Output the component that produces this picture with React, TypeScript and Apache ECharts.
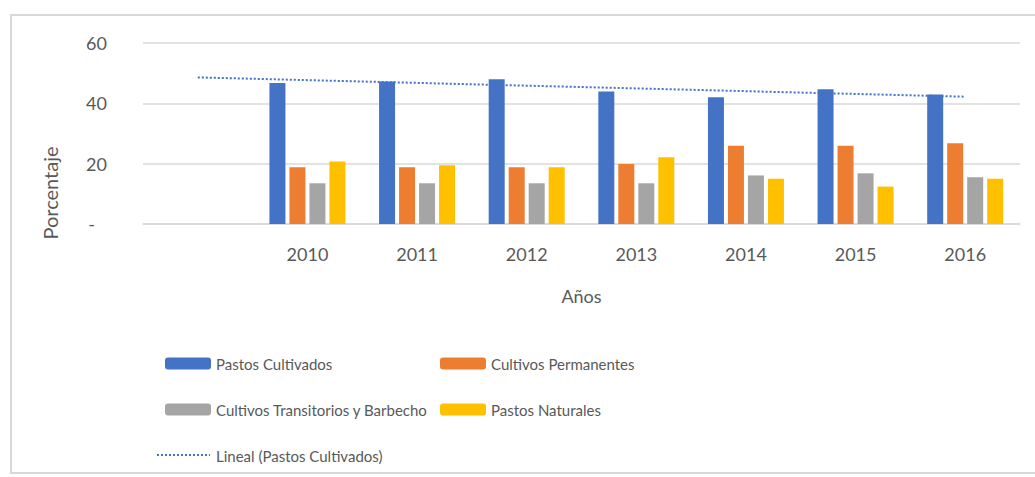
import React, { useEffect, useRef } from "react";
import * as echarts from "echarts";

const categories = ["", "2010", "2011", "2012", "2013", "2014", "2015", "2016"];
const pastosCultivados = [null, 46.7, 47.2, 48.0, 43.9, 42.0, 44.7, 42.9];
const cultivosPermanentes = [null, 18.8, 18.8, 18.8, 19.9, 25.9, 25.9, 26.8];
const cultivosTransitorios = [null, 13.5, 13.5, 13.5, 13.5, 16.1, 16.8, 15.5];
const pastosNaturales = [null, 20.7, 19.5, 18.8, 22.1, 15.0, 12.4, 15.0];
const trendStart = 48.6;
const trendEnd = 42.2;
const yTicks = [0, 20, 40, 60];

const FONT = "Lato";
const TEXT = "#595959";
const BLUE = "#4472C4";

export default function App() {
  const ref = useRef<HTMLDivElement>(null);
  useEffect(() => {
    if (!ref.current) return;
    const chart = echarts.init(ref.current, null, { renderer: "svg" });
    const trend = categories.map((_, i) =>
      i === 0 ? trendStart : i === categories.length - 1 ? trendEnd : null
    );
    const barCommon = { type: "bar", barWidth: 16, barGap: "25%" };
    const legendCommon = {
      orient: "vertical",
      top: 351,
      itemWidth: 46,
      itemHeight: 12,
      itemGap: 31,
      textStyle: { color: TEXT, fontSize: 15, fontFamily: FONT },
    };
    chart.setOption({
      animation: false,
      backgroundColor: "#ffffff",
      textStyle: { fontFamily: FONT },
      graphic: [
        {
          type: "rect",
          shape: { x: 11, y: 15, width: 1040, height: 458 },
          style: { fill: "none", stroke: "#d9d9d9", lineWidth: 2 },
          silent: true,
        },
        {
          type: "text",
          x: 50,
          y: 193,
          rotation: Math.PI / 2,
          style: {
            text: "Porcentaje",
            fill: TEXT,
            font: `20px ${FONT}`,
            align: "center",
            verticalAlign: "middle",
          },
        },
        {
          type: "line",
          shape: { x1: 157, y1: 455, x2: 210, y2: 455 },
          style: { stroke: BLUE, lineWidth: 2, lineDash: [2, 2] },
          silent: true,
        },
      ],
      grid: { left: 143, right: 15, top: 43, bottom: 253 },
      xAxis: {
        type: "category",
        data: categories,
        name: "Años",
        nameLocation: "middle",
        nameGap: 63,
        nameTextStyle: { color: TEXT, fontSize: 18, fontFamily: FONT },
        axisLine: { lineStyle: { color: "#d9d9d9", width: 1.5 } },
        axisTick: { show: false },
        axisLabel: { color: TEXT, fontSize: 18, fontFamily: FONT, margin: 21 },
      },
      yAxis: {
        type: "value",
        min: yTicks[0],
        max: yTicks[yTicks.length - 1],
        interval: 20,
        axisLine: { show: false },
        axisTick: { show: false },
        splitLine: { lineStyle: { color: "#d9d9d9", width: 1.5 } },
        axisLabel: {
          color: TEXT,
          fontSize: 18,
          fontFamily: FONT,
          margin: 36,
          formatter: (v: number) => (v === 0 ? "{d|-}" : String(v)),
          rich: { d: { color: TEXT, fontSize: 18, fontFamily: FONT, padding: [0, 12, 0, 0] } },
        },
      },
      legend: [
        {
          ...legendCommon,
          left: 160,
          data: [
            "Pastos Cultivados",
            "Cultivos Transitorios y Barbecho",
            { name: "Lineal (Pastos Cultivados)", icon: "rect", itemStyle: { opacity: 0 } },
          ],
        },
        {
          ...legendCommon,
          left: 435,
          data: ["Cultivos Permanentes", "Pastos Naturales"],
        },
      ],
      series: [
        { ...barCommon, name: "Pastos Cultivados", data: pastosCultivados, itemStyle: { color: BLUE } },
        { ...barCommon, name: "Cultivos Permanentes", data: cultivosPermanentes, itemStyle: { color: "#ED7D31" } },
        { ...barCommon, name: "Cultivos Transitorios y Barbecho", data: cultivosTransitorios, itemStyle: { color: "#A5A5A5" } },
        { ...barCommon, name: "Pastos Naturales", data: pastosNaturales, itemStyle: { color: "#FFC000" } },
        {
          type: "line",
          name: "Lineal (Pastos Cultivados)",
          data: trend,
          connectNulls: true,
          symbol: "none",
          itemStyle: { color: BLUE },
          lineStyle: { color: BLUE, width: 2, type: [2, 2] },
        },
      ],
    });
    return () => chart.dispose();
  }, []);
  return <div ref={ref} style={{ width: 1035, height: 477, position: "absolute", left: 0, top: 0 }} />;
}
